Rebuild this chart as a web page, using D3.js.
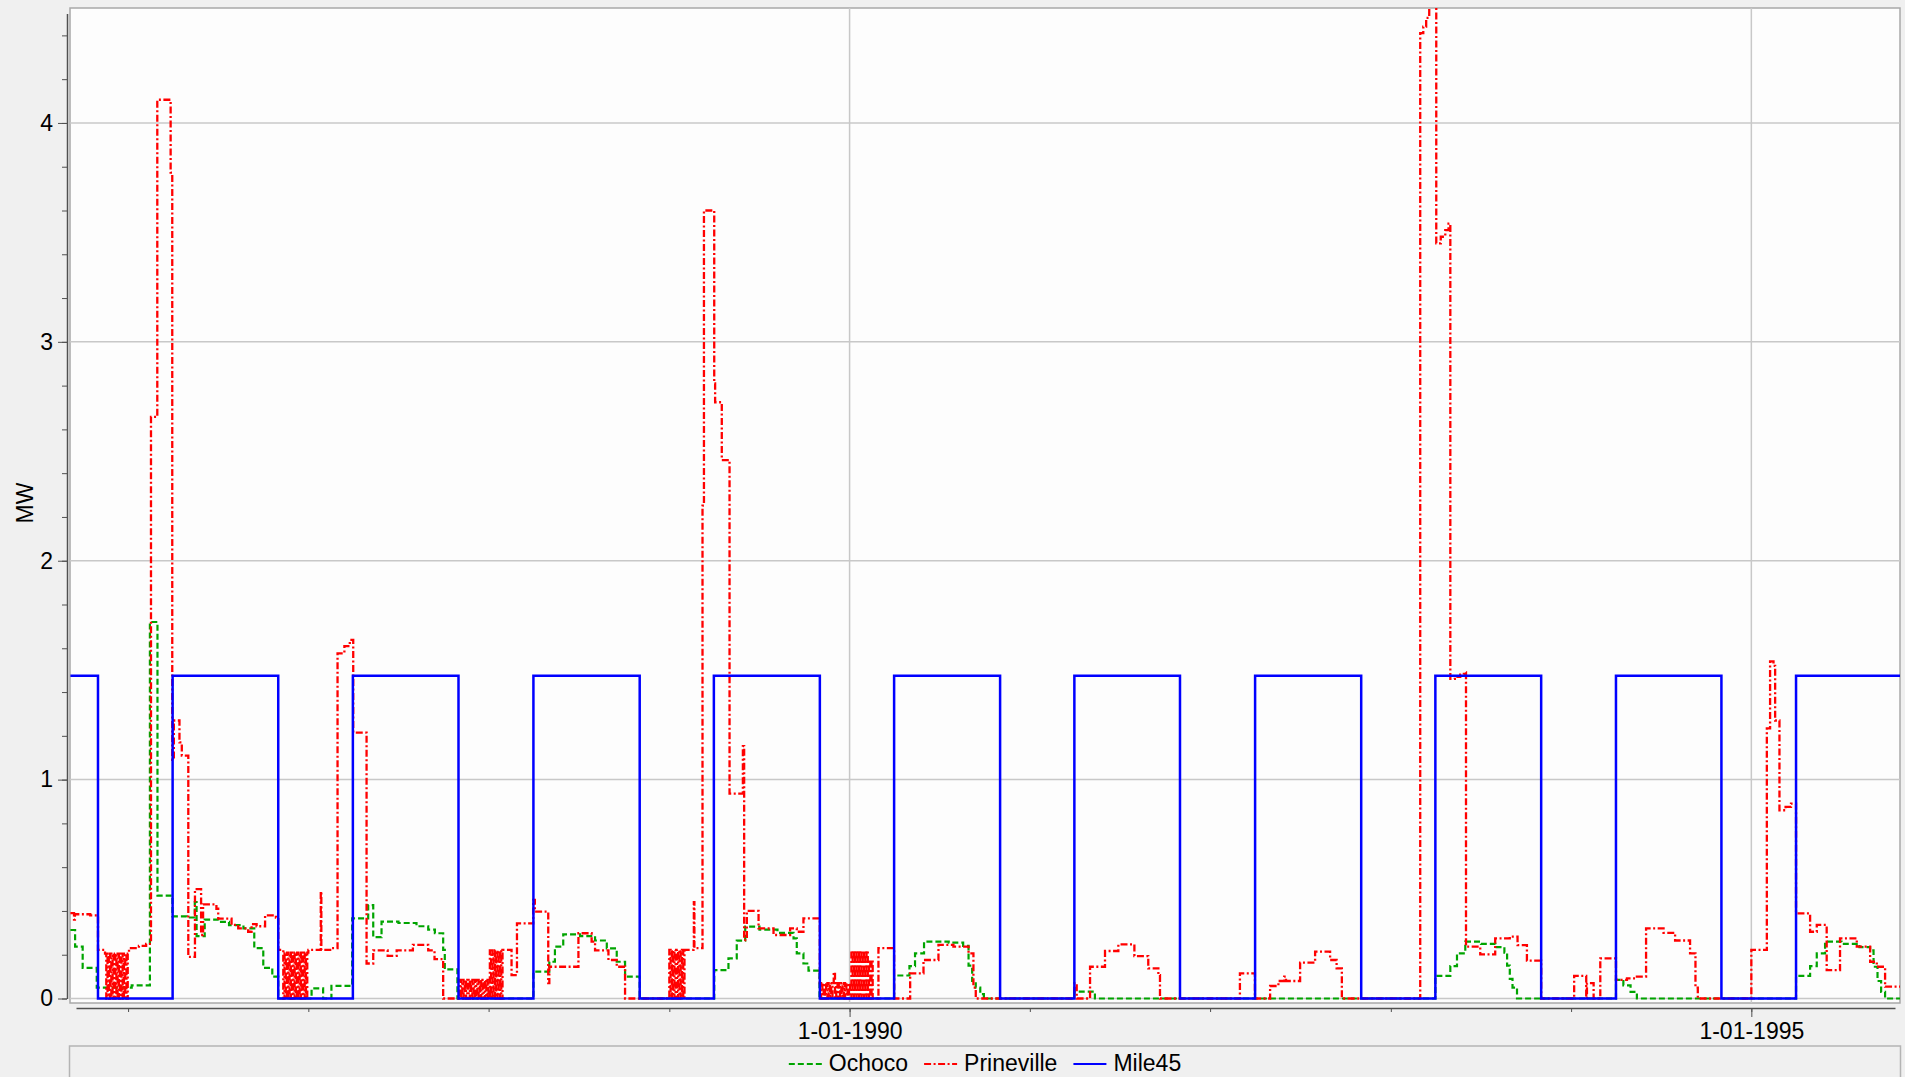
<!DOCTYPE html>
<html><head><meta charset="utf-8">
<script src="https://cdn.jsdelivr.net/npm/d3@7"></script>
<style>
html,body{margin:0;padding:0;background:#f0f0f0;}
svg{display:block;font-family:"Liberation Sans",Arial,sans-serif;}
</style></head><body>
<svg id="chart" width="1905" height="1077"></svg>
<script>
// ---------------- DATA (time in decimal years, values in MW) ----------------
const seriesNames = ["Ochoco", "Prineville", "Mile45"];
const yAxisTitle = "MW";
const yLabelValues = [0, 1, 2, 3, 4];
const xLabelYears = [1990, 1995];
const xDomainYears = [1985.711, 1995.797];
const yDomain = [0, 4.5];

const mile45 = [
  [1985.68,1.475],[1985.833,0],[1986.247,1.475],[1986.833,0],[1987.247,1.475],[1987.833,0],
  [1988.248,1.475],[1988.836,0],[1989.247,1.475],[1989.835,0],[1990.247,1.475],[1990.835,0],
  [1991.247,1.475],[1991.833,0],[1992.249,1.475],[1992.836,0],[1993.247,1.475],[1993.834,0],
  [1994.249,1.475],[1994.834,0],[1995.248,1.475],[1995.83,1.475]
];

const ochoco = [
  [1985.68,0.313],[1985.706,0.237],[1985.748,0.14],[1985.826,0.05],[1986.02,0.06],
  [1986.121,1.72],[1986.163,0.47],[1986.246,0.375],[1986.325,0.37],[1986.37,0.44],[1986.38,0.285],
  [1986.425,0.36],[1986.50,0.35],[1986.56,0.335],[1986.64,0.32],[1986.70,0.23],[1986.75,0.14],
  [1986.80,0.10],[1986.833,0],[1987.018,0.046],[1987.082,0],[1987.128,0.058],
  [1987.243,0.366],[1987.332,0.427],[1987.36,0.28],[1987.406,0.351],[1987.50,0.345],[1987.60,0.33],
  [1987.665,0.315],[1987.702,0.298],[1987.748,0.222],[1987.757,0.133],[1987.827,0],
  [1988.248,0.123],[1988.336,0.168],[1988.367,0.237],[1988.413,0.293],[1988.506,0.285],
  [1988.589,0.265],[1988.654,0.229],[1988.709,0.168],[1988.755,0.10],[1988.836,0],
  [1989.249,0.13],[1989.328,0.183],[1989.374,0.264],[1989.421,0.328],[1989.50,0.315],[1989.60,0.30],
  [1989.689,0.275],[1989.707,0.206],[1989.744,0.16],[1989.772,0.127],[1989.833,0],
  [1990.247,0.105],[1990.332,0.148],[1990.363,0.206],[1990.413,0.26],[1990.55,0.255],[1990.63,0.24],
  [1990.66,0.15],[1990.68,0.08],[1990.70,0.05],[1990.725,0.02],[1990.745,0],
  [1991.247,0.031],[1991.361,0],
  [1993.247,0.103],[1993.33,0.148],[1993.367,0.206],[1993.413,0.26],[1993.50,0.25],[1993.58,0.235],
  [1993.63,0.21],[1993.645,0.15],[1993.66,0.09],[1993.675,0.05],[1993.70,0],
  [1994.249,0.085],[1994.29,0.06],[1994.33,0.03],[1994.365,0],
  [1995.248,0.103],[1995.326,0.148],[1995.363,0.206],[1995.409,0.26],[1995.50,0.25],[1995.60,0.235],
  [1995.659,0.22],[1995.678,0.145],[1995.70,0.08],[1995.72,0.03],[1995.742,0],[1995.83,0]
];

const prineville = [
  [1985.68,0.39],[1985.70,0.36],[1985.705,0.385],[1985.79,0.38],[1985.833,0.222],
  [1985.872,0.205],[1985.879,0],[1985.886,0.205],[1985.893,0],[1985.900,0.205],[1985.907,0],
  [1985.914,0.205],[1985.921,0],[1985.928,0.205],[1985.935,0],[1985.942,0.205],[1985.949,0],
  [1985.956,0.205],[1985.963,0],[1985.970,0.205],[1985.977,0],[1985.984,0.205],[1985.991,0],
  [1985.998,0.205],
  [1986.005,0.23],[1986.06,0.24],[1986.10,0.25],[1986.127,2.657],[1986.162,4.106],[1986.236,3.773],
  [1986.245,1.09],[1986.254,1.27],[1986.285,1.17],[1986.298,1.11],[1986.334,0.19],[1986.371,0.50],
  [1986.405,0.29],[1986.416,0.43],[1986.49,0.41],[1986.50,0.365],[1986.574,0.336],[1986.611,0.32],
  [1986.666,0.305],[1986.685,0.34],[1986.713,0.33],[1986.76,0.38],[1986.82,0.37],[1986.833,0.222],
  [1986.861,0],[1986.868,0.21],[1986.875,0],[1986.882,0.21],[1986.889,0],[1986.896,0.21],
  [1986.903,0],[1986.910,0.21],[1986.917,0],[1986.924,0.21],[1986.931,0],[1986.938,0.21],
  [1986.945,0],[1986.952,0.21],[1986.959,0],[1986.966,0.21],[1986.973,0],[1986.980,0.21],
  [1986.987,0],[1986.994,0.21],
  [1987.0,0.222],[1987.069,0.49],[1987.072,0.222],[1987.128,0.23],[1987.162,1.577],[1987.20,1.61],
  [1987.23,1.638],[1987.249,1.215],[1987.323,0.16],[1987.36,0.22],[1987.44,0.195],[1987.49,0.22],
  [1987.58,0.245],[1987.665,0.22],[1987.70,0.18],[1987.748,0],
  [1987.84,0.085],[1987.847,0],[1987.854,0.085],[1987.861,0],[1987.868,0.085],[1987.875,0],
  [1987.882,0.085],[1987.889,0],[1987.896,0.085],[1987.903,0],[1987.910,0.085],[1987.917,0],
  [1987.924,0.085],[1987.931,0],[1987.938,0.085],[1987.945,0],[1987.952,0.085],[1987.959,0],
  [1987.966,0.085],[1987.973,0],[1987.980,0.085],[1987.987,0],[1987.994,0.085],
  [1988.000,0],[1988.007,0.22],[1988.014,0],[1988.021,0.22],[1988.028,0],[1988.035,0.22],
  [1988.042,0],[1988.049,0.22],[1988.056,0],[1988.063,0.22],[1988.070,0],[1988.077,0.222],
  [1988.127,0.107],[1988.157,0.343],[1988.247,0.45],[1988.256,0.397],[1988.33,0.07],[1988.336,0.145],
  [1988.497,0.298],[1988.57,0.26],[1988.589,0.22],[1988.663,0.176],[1988.709,0.145],[1988.755,0],
  [1989.000,0.222],[1989.007,0],[1989.014,0.222],[1989.021,0],[1989.028,0.222],[1989.035,0],
  [1989.042,0.222],[1989.049,0],[1989.056,0.222],[1989.063,0],[1989.070,0.222],[1989.077,0],
  [1989.084,0.222],
  [1989.134,0.23],[1989.136,0.44],[1989.139,0.23],[1989.184,2.252],[1989.192,3.60],[1989.249,2.81],
  [1989.254,2.724],[1989.291,2.46],[1989.334,0.936],[1989.408,1.153],[1989.415,0.267],[1989.43,0.40],
  [1989.495,0.32],[1989.578,0.29],[1989.67,0.32],[1989.707,0.305],[1989.744,0.366],
  [1989.835,0.07],[1989.842,0],[1989.849,0.07],[1989.856,0],[1989.863,0.07],[1989.870,0],
  [1989.877,0.07],[1989.884,0],[1989.891,0.07],[1989.898,0],[1989.905,0.07],[1989.912,0.12],
  [1989.919,0],[1989.926,0.07],[1989.933,0],[1989.940,0.07],[1989.947,0],[1989.954,0.07],
  [1989.961,0],[1989.968,0.07],[1989.975,0],[1989.982,0.07],[1989.989,0],[1989.996,0.07],
  [1990.003,0],[1990.010,0.218],[1990.017,0],[1990.024,0.218],[1990.031,0],[1990.038,0.218],
  [1990.045,0],[1990.052,0.218],[1990.059,0],[1990.066,0.218],[1990.073,0],[1990.080,0.218],
  [1990.087,0],[1990.094,0.218],[1990.101,0],[1990.108,0.176],[1990.115,0],[1990.122,0.176],
  [1990.128,0],
  [1990.16,0.23],[1990.247,0],[1990.336,0.115],[1990.41,0.176],[1990.493,0.245],[1990.576,0.237],
  [1990.66,0.206],[1990.687,0.05],[1990.70,0],
  [1991.247,0.07],[1991.26,0],[1991.334,0.145],[1991.417,0.217],[1991.491,0.247],[1991.58,0.194],
  [1991.657,0.138],[1991.713,0.107],[1991.722,0],
  [1992.165,0.115],[1992.248,0],[1992.332,0.057],[1992.378,0.08],[1992.41,0.1],[1992.42,0.08],
  [1992.498,0.164],[1992.581,0.214],[1992.664,0.176],[1992.70,0.138],[1992.729,0],
  [1993.163,4.41],[1993.18,4.44],[1993.196,4.48],[1993.213,4.53],[1993.22,4.8],[1993.252,3.45],
  [1993.277,3.48],[1993.302,3.51],[1993.32,3.54],[1993.33,1.46],[1993.355,1.47],[1993.385,1.48],
  [1993.405,1.49],[1993.417,0.237],[1993.496,0.202],[1993.579,0.275],[1993.66,0.283],
  [1993.703,0.244],[1993.755,0.173],[1993.834,0],
  [1994.017,0.103],[1994.084,0],[1994.088,0.07],[1994.125,0],[1994.162,0.183],[1994.249,0.085],
  [1994.31,0.092],[1994.365,0.1],[1994.416,0.32],[1994.513,0.3],[1994.577,0.265],[1994.66,0.206],
  [1994.69,0.05],[1994.703,0],
  [1995.0,0.222],[1995.086,1.234],[1995.104,1.54],[1995.123,1.52],[1995.132,1.27],[1995.156,0.86],
  [1995.19,0.875],[1995.22,0.89],[1995.248,0.389],[1995.326,0.305],[1995.363,0.336],[1995.418,0.13],
  [1995.492,0.275],[1995.585,0.237],[1995.659,0.168],[1995.696,0.145],[1995.742,0.054],[1995.83,0.054]
];

// ---------------- STYLES / LAYOUT ----------------
const styles = {
  Ochoco:     {color:"#00a400", dash:"6,3", width:2.2},
  Prineville: {color:"#ff0000", dash:"7,2.5,2,2.5", width:2.3},
  Mile45:     {color:"#0000ff", dash:null, width:2.5}
};
const frame = {x:70, y:8, w:1830, h:995};
const FONT = 23;

const yearToDate = v => {
  const yr = Math.floor(v);
  const a = Date.UTC(yr,0,1), b = Date.UTC(yr+1,0,1);
  return new Date(a + (v - yr) * (b - a));
};

const svg = d3.select("#chart");
const x = d3.scaleUtc().domain(xDomainYears.map(yearToDate)).range([76, 1895]);
const y = d3.scaleLinear().domain(yDomain).range([998.5, 13.5]);

// plot frame
svg.append("rect").attr("x",frame.x).attr("y",frame.y).attr("width",frame.w).attr("height",frame.h)
  .attr("fill","#fdfdfd").attr("stroke","#a8a8a8").attr("stroke-width",1.5);

svg.append("defs").append("clipPath").attr("id","clip").append("rect")
  .attr("x",frame.x).attr("y",frame.y).attr("width",frame.w).attr("height",frame.h);

// grid
const grid = svg.append("g").attr("clip-path","url(#clip)");
grid.selectAll("line.h").data(yLabelValues).join("line")
  .attr("x1",frame.x).attr("x2",frame.x+frame.w)
  .attr("y1",d=>y(d)).attr("y2",d=>y(d))
  .attr("stroke","#c8c8c8").attr("stroke-width",1.5);
grid.selectAll("line.v").data(xLabelYears).join("line")
  .attr("x1",d=>x(yearToDate(d))).attr("x2",d=>x(yearToDate(d)))
  .attr("y1",frame.y).attr("y2",frame.y+frame.h)
  .attr("stroke","#c8c8c8").attr("stroke-width",1.5);

// series
const line = d3.line().x(d=>x(yearToDate(d[0]))).y(d=>y(d[1])).curve(d3.curveStepAfter);
const plot = svg.append("g").attr("clip-path","url(#clip)");
const seriesData = {Ochoco: ochoco, Prineville: prineville, Mile45: mile45};
seriesNames.forEach(name => {
  const st = styles[name];
  plot.append("path").datum(seriesData[name])
    .attr("d", line).attr("fill","none")
    .attr("stroke", st.color).attr("stroke-width", st.width)
    .attr("stroke-dasharray", st.dash)
    .attr("stroke-linejoin","miter");
});

// y axis
const axisColor = "#505050";
const yMinor = svg.append("g").attr("transform","translate(67,0)")
  .call(d3.axisLeft(y).tickValues(d3.range(0, 4.5001, 0.2)).tickSize(5).tickSizeOuter(0).tickFormat(""));
yMinor.attr("color",axisColor);
yMinor.select(".domain").attr("stroke-width",1.5);
const yMajor = svg.append("g").attr("transform","translate(67,0)")
  .call(d3.axisLeft(y).tickValues(yLabelValues).tickSize(9).tickPadding(5).tickSizeOuter(0)
        .tickFormat(d3.format("d")));
yMajor.attr("color",axisColor);
yMajor.select(".domain").remove();
yMajor.selectAll("text").attr("fill","#000").style("font-size",FONT+"px")
  .style("font-family","'Liberation Sans',Arial,sans-serif");

// x axis
const xMinor = svg.append("g").attr("transform","translate(0,1008)")
  .call(d3.axisBottom(x).ticks(d3.utcYear.every(1)).tickSize(4).tickSizeOuter(0).tickFormat(""));
xMinor.attr("color",axisColor);
xMinor.select(".domain").attr("stroke-width",1.5);
const xMajor = svg.append("g").attr("transform","translate(0,1008)")
  .call(d3.axisBottom(x).tickValues(xLabelYears.map(yearToDate)).tickSize(9).tickPadding(6)
        .tickSizeOuter(0).tickFormat(d3.utcFormat("%-d-%m-%Y")));
xMajor.attr("color",axisColor);
xMajor.select(".domain").remove();
xMajor.selectAll("text").attr("fill","#000").style("font-size",FONT+"px")
  .style("font-family","'Liberation Sans',Arial,sans-serif");

// y title
svg.append("text").attr("transform","translate(33,503) rotate(-90)")
  .attr("text-anchor","middle").style("font-size",FONT+"px").attr("fill","#000").text(yAxisTitle);

// legend box
svg.append("rect").attr("x",69.5).attr("y",1046).attr("width",1831).attr("height",60)
  .attr("fill","none").attr("stroke","#b4b4b4").attr("stroke-width",1.5);

const legend = svg.append("g");
const sampleLen = 33, sampleGap = 7, itemGap = 16;
const items = seriesNames.map(name => {
  const g = legend.append("g");
  g.append("line").attr("x1",0).attr("x2",sampleLen).attr("y1",1064).attr("y2",1064)
    .attr("stroke",styles[name].color).attr("stroke-width",2).attr("stroke-dasharray",styles[name].dash);
  const t = g.append("text").attr("x",sampleLen+sampleGap).attr("y",1071)
    .style("font-size",FONT+"px").attr("fill","#000").text(name);
  return {g, w: sampleLen + sampleGap + t.node().getComputedTextLength()};
});
const total = d3.sum(items, d=>d.w) + itemGap*(items.length-1);
let cx = (frame.x + frame.x + frame.w)/2 - total/2;
items.forEach(it => { it.g.attr("transform",`translate(${cx},0)`); cx += it.w + itemGap; });
</script>
</body></html>
